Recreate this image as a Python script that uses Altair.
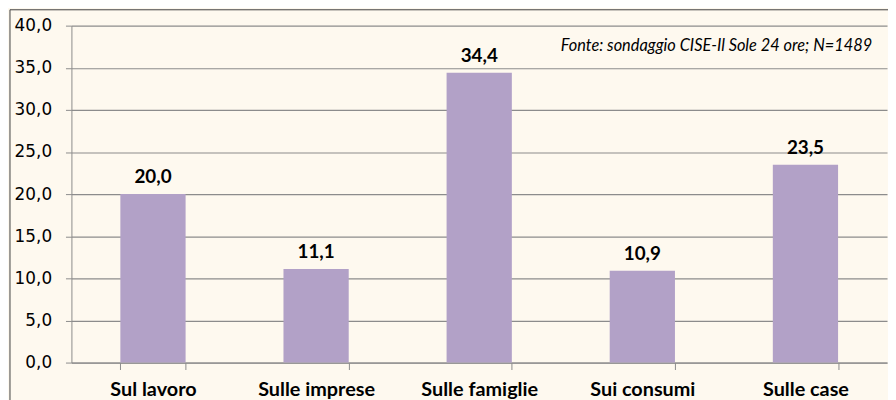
import altair as alt
import pandas as pd

categories = ["Sul lavoro", "Sulle imprese", "Sulle famiglie", "Sui consumi", "Sulle case"]
values = [20.0, 11.1, 34.4, 10.9, 23.5]
y_ticks = [0, 5, 10, 15, 20, 25, 30, 35, 40]
note = ["Fonte: sondaggio CISE-Il Sole 24 ore; N=1489"]

df = pd.DataFrame({"cat": categories, "val": values})

GRAY = "#8C8C8C"
BG = "#FEF9EF"

x_enc = alt.X(
    "cat:N", sort=categories, title=None,
    scale=alt.Scale(paddingInner=0.6, paddingOuter=0.3),
    axis=alt.Axis(labelAngle=0, labelFont="Lato", labelFontWeight="bold", labelFontSize=20,
                  labelColor="#000000", domainColor=GRAY, tickColor=GRAY, tickSize=7,
                  tickBand="extent", labelPadding=10, grid=False),
)
y_enc = alt.Y(
    "val:Q", title=None,
    scale=alt.Scale(domain=[0, 40], nice=False),
    axis=alt.Axis(values=y_ticks, labelExpr="replace(format(datum.value, '.1f'), '.', ',')",
                  labelFont="DejaVu Sans", labelFontSize=17, labelColor="#000000",
                  domainColor=GRAY, tickColor=GRAY, tickSize=6, labelPadding=14,
                  grid=True, gridColor=GRAY, gridWidth=1.2),
)

base = alt.Chart(df)
bars = base.mark_bar(color="#B2A1C7").encode(x=x_enc, y=y_enc)
labels = base.transform_calculate(
    lbl="replace(format(datum.val, '.1f'), '.', ',')"
).mark_text(font="Lato", fontWeight="bold", fontSize=19, dy=-11, baseline="alphabetic",
            color="#000000").encode(
    x=alt.X("cat:N", sort=categories), y=alt.Y("val:Q"), text="lbl:N"
)

annot = alt.Chart(pd.DataFrame({"t": note})).mark_text(
    font="Lato", fontStyle="italic", fontSize=16.5, align="right", baseline="middle", color="#000000"
).encode(x=alt.value(808), y=alt.value(21), text="t:N")

one = pd.DataFrame({"a": [0]})
top_border = alt.Chart(one).mark_rule(color="#404040", strokeWidth=1).encode(
    x=alt.value(-62), x2=alt.value(900), y=alt.value(-16))
left_border = alt.Chart(one).mark_rule(color="#404040", strokeWidth=1).encode(
    x=alt.value(-62), y=alt.value(-16), y2=alt.value(420))

chart = alt.layer(bars, labels, annot, top_border, left_border).properties(
    width=823, height=340,
    autosize=alt.AutoSizeParams(type="none"),
    padding={"left": 64, "top": 16, "right": 1, "bottom": 40},
    background=BG,
).configure_view(stroke=None)

chart.save("out.html", embed_options={"renderer": "svg", "actions": False})
